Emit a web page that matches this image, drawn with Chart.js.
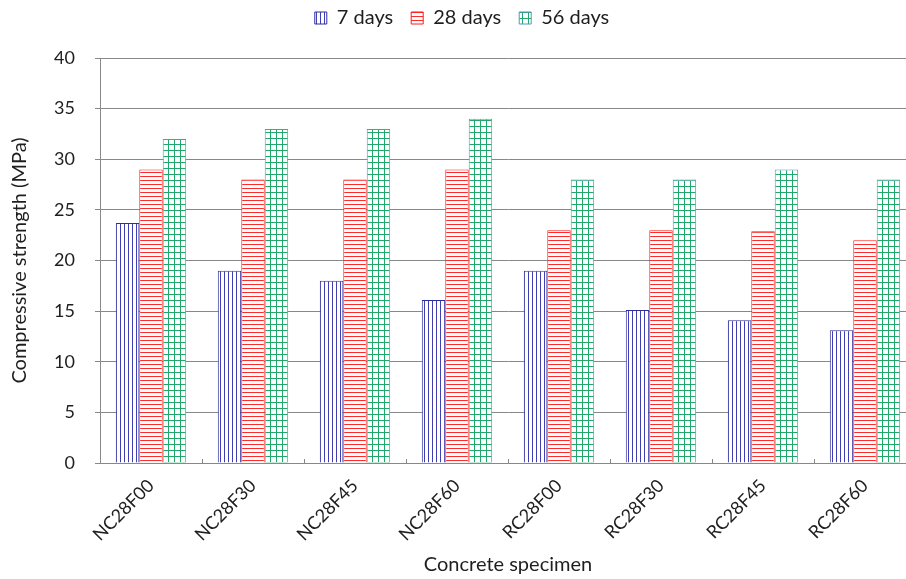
<!DOCTYPE html>
<html>
<head>
<meta charset="utf-8">
<script src="https://cdn.jsdelivr.net/npm/chart.js@4/dist/chart.umd.min.js"></script>
<style>
  html, body { margin: 0; padding: 0; background: #fff; overflow: hidden; }
  #wrap { position: relative; width: 926px; height: 579px; }
</style>
</head>
<body>
<div id="wrap"><canvas id="c"></canvas></div>
<script>
// Compressive strength of concrete specimens at three curing ages
const specimens = ['NC28F00', 'NC28F30', 'NC28F45', 'NC28F60', 'RC28F00', 'RC28F30', 'RC28F45', 'RC28F60'];
const days7  = [23.7, 19.0, 18.0, 16.1, 19.0, 15.1, 14.1, 13.1];
const days28 = [29.0, 28.0, 28.0, 29.0, 23.0, 23.0, 22.9, 22.0];
const days56 = [32.0, 33.0, 33.0, 34.0, 28.0, 28.0, 29.0, 28.0];
const yTicks = [0, 5, 10, 15, 20, 25, 30, 35, 40];

const FONT = 'Lato, "Open Sans", sans-serif';
const TEXT = '#1e1e1e';

// Hatch fills: vertical lines, horizontal lines, and a square grid
function hatch(kind, color) {
  const size = kind === 'grid' ? 6 : 4;
  const cv = document.createElement('canvas');
  cv.width = size; cv.height = size;
  const g = cv.getContext('2d');
  g.fillStyle = '#fff';
  g.fillRect(0, 0, size, size);
  g.fillStyle = color;
  if (kind === 'v' || kind === 'grid') g.fillRect(0, 0, 1, size);
  if (kind === 'h' || kind === 'grid') g.fillRect(0, 0, size, 1);
  return g.createPattern(cv, 'repeat');
}

// Small tick marks between categories, pointing up into the plot
const innerTicks = {
  id: 'innerTicks',
  afterDatasetsDraw(chart) {
    const x = chart.scales.x, area = chart.chartArea, ctx = chart.ctx;
    ctx.save();
    ctx.strokeStyle = '#888';
    ctx.lineWidth = 1;
    for (let i = 0; i < specimens.length - 1; i++) {
      const px = Math.round((x.getPixelForValue(i) + x.getPixelForValue(i + 1)) / 2) + 0.5;
      ctx.beginPath();
      ctx.moveTo(px, area.bottom);
      ctx.lineTo(px, area.bottom - 4);
      ctx.stroke();
    }
    ctx.restore();
  }
};

// Leave a gap between the legend row and the plot
const legendGap = {
  id: 'legendGap',
  afterInit(chart) {
    const lg = chart.legend;
    const fit = lg.fit;
    lg.fit = function () { fit.call(this); this.height = 68; };
  }
};

new Chart(document.getElementById('c'), {
  type: 'bar',
  data: {
    labels: specimens,
    datasets: [
      { label: '7 days',  data: days7,  backgroundColor: hatch('v', '#4040b4'), borderColor: '#2e2e9e', borderWidth: 1 },
      { label: '28 days', data: days28, backgroundColor: hatch('h', '#ff2a2a'), borderColor: '#ff1a1a', borderWidth: 1 },
      { label: '56 days', data: days56, backgroundColor: hatch('grid', '#1fa86a'), borderColor: '#5a8fd0', borderWidth: 1 }
    ]
  },
  plugins: [innerTicks, legendGap],
  options: {
    responsive: true,
    maintainAspectRatio: false,
    animation: false,
    layout: { padding: { left: 8, right: 10, top: -10, bottom: 2 } },
    datasets: { bar: { categoryPercentage: 0.69, barPercentage: 1.0 } },
    plugins: {
      tooltip: { enabled: false },
      legend: {
        position: 'top',
        labels: {
          boxWidth: 12, boxHeight: 12,
          color: TEXT,
          font: { family: FONT, size: 20 },
          padding: 18
        }
      }
    },
    scales: {
      x: {
        afterFit(scale) { scale.height = 114; },
        grid: { display: false },
        border: { display: true, color: '#888' },
        ticks: {
          maxRotation: 45, minRotation: 45,
          color: TEXT, padding: 4,
          font: { family: FONT, size: 18 }
        },
        title: {
          display: true, text: 'Concrete specimen',
          color: TEXT, font: { family: FONT, size: 20 },
          padding: { top: 0, bottom: 0 }
        }
      },
      y: {
        min: 0, max: 40,
        afterBuildTicks(scale) { scale.ticks = yTicks.map(v => ({ value: v })); },
        afterFit(scale) { scale.width = 92; },
        grid: { color: '#888', tickLength: 5, drawTicks: true },
        border: { display: true, color: '#888' },
        ticks: {
          color: TEXT, padding: 20,
          font: { family: FONT, size: 18 }
        },
        title: {
          display: true, text: 'Compressive strength (MPa)',
          color: TEXT, font: { family: FONT, size: 20 },
          padding: { top: 0, bottom: 0 }
        }
      }
    }
  }
});
</script>
</body>
</html>
